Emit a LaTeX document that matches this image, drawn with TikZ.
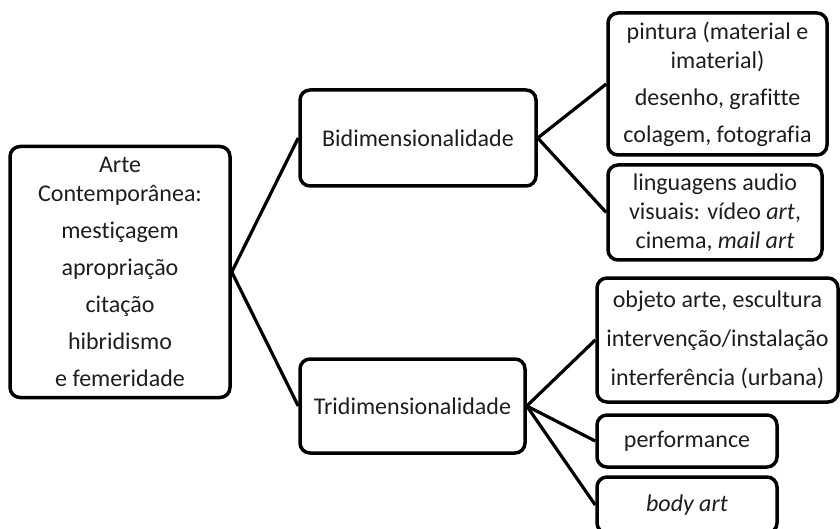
\documentclass[tikz,border=0pt]{standalone}
\usepackage{fontspec}
\setmainfont[Ligatures=NoCommon]{Carlito}
\usepackage{tikz}
\usetikzlibrary{positioning}
\definecolor{inkgray}{RGB}{30,30,30}

\begin{document}
\begin{tikzpicture}[
  x=1pt, y=-1pt,
  box/.style={draw=black, line width=3.5pt, rounded corners=10pt, align=center,
              inner sep=0pt, text=inkgray,
              font=\fontsize{24}{29}\selectfont},
  link/.style={line width=3.2pt}
]
  \useasboundingbox[fill=white] (0,0) rectangle (840,529);

  % root
  \node[box, minimum width=220pt, minimum height=251pt] (arte) at (120,272)
    {Arte\\Contempor\^anea:\\[8pt] mesti\c{c}agem\\[8pt] apropria\c{c}\~ao\\[8pt]
     cita\c{c}\~ao\\[8pt] hibridismo\\[8pt] e femeridade};

  % second level
  \node[box, minimum width=236pt, minimum height=96pt] (bidim) at (418,138)
    {Bidimensionalidade};
  \node[box, minimum width=225pt, minimum height=94pt] (tridim) at (412.5,406)
    {Tridimensionalidade};

  % leaves
  \node[box, minimum width=219pt, minimum height=142pt] (pint) at (717.5,84)
    {pintura (material e\\imaterial)\\[8pt] desenho, grafitte\\[8pt] colagem, fotografia};
  \node[box, minimum width=214pt, minimum height=95pt] (ling) at (715,212.5)
    {linguagens audio\\visuais: v\'ideo \textit{art},\\cinema, \textit{mail art}};
  \node[box, minimum width=241pt, minimum height=124pt] (obj) at (717.5,340)
    {objeto arte, escultura\\[10pt] interven\c{c}\~ao/instala\c{c}\~ao\\[10pt]
     interfer\^encia (urbana)};
  \node[box, minimum width=180pt, minimum height=52pt] (perf) at (687,441)
    {performance};
  \node[box, minimum width=180pt, minimum height=56pt] (body) at (687,505)
    {\textit{body art}};

  \draw[link] (arte.east) -- (bidim.west);
  \draw[link] (arte.east) -- (tridim.west);
  \draw[link] (bidim.east) -- (pint.west);
  \draw[link] (bidim.east) -- (ling.west);
  \draw[link] (tridim.east) -- (obj.west);
  \draw[link] (tridim.east) -- (perf.west);
  \draw[link] (tridim.east) -- (body.west);
\end{tikzpicture}
\end{document}
